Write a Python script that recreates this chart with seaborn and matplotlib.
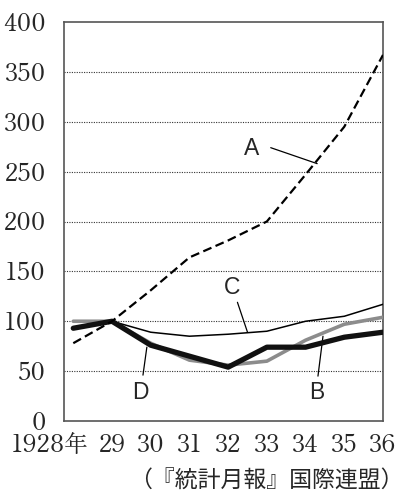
import matplotlib
matplotlib.use("Agg")
import matplotlib.pyplot as plt
from matplotlib.transforms import ScaledTranslation
import pandas as pd
import seaborn as sns

years = [1928, 1929, 1930, 1931, 1932, 1933, 1934, 1935, 1936]
year_labels = ["1928年", "29", "30", "31", "32", "33", "34", "35", "36"]

a_values = [78, 100, 131, 164, 181, 200, 247, 295, 367]
b_values = [100, 100, 78, 61, 56, 60, 81, 97, 104]
c_values = [None, 100, 89, 85, 87, 90, 100, 105, 117]
d_values = [93, 100, 76, 65, 54, 74, 74, 84, 89]

y_ticks = [0, 50, 100, 150, 200, 250, 300, 350, 400]

TICK_FONT = "Zen Old Mincho"


def main():
    sns.set_style("white")
    plt.rcParams["font.family"] = [TICK_FONT]

    df = pd.DataFrame({"year": years, "A": a_values, "B": b_values,
                       "C": c_values, "D": d_values})

    fig = plt.figure(figsize=(4.05, 5.01), dpi=100)
    ax = fig.add_axes([64 / 405, 1 - 421 / 501, (383 - 64) / 405, (421 - 22) / 501])

    for y in y_ticks[1:-1]:
        ax.axhline(y, color="#333333", lw=0.8, ls=(0, (1, 1.2)), zorder=1)

    sns.lineplot(data=df, x="year", y="B", ax=ax, color="#8c8c8c", lw=2.6, zorder=3)
    sns.lineplot(data=df, x="year", y="C", ax=ax, color="black", lw=1.1, zorder=4)
    sns.lineplot(data=df, x="year", y="D", ax=ax, color="#111111", lw=3.8, zorder=5)
    sns.lineplot(data=df, x="year", y="A", ax=ax, color="black", lw=1.6,
                 ls=(0, (4, 2)), zorder=6)

    ax.set_xlim(1927.76, 1936)
    ax.set_ylim(0, 400)
    ax.set_xticks(years)
    ax.set_xticklabels(year_labels, fontsize=17, family=TICK_FONT)
    ax.set_yticks(y_ticks)
    ax.set_yticklabels([str(v) for v in y_ticks], fontsize=17, family=TICK_FONT)
    ax.tick_params(axis="both", length=0)
    ax.tick_params(axis="y", pad=13)
    ax.tick_params(axis="x", pad=9)
    ax.set_xlabel("")
    ax.set_ylabel("")

    first = ax.get_xticklabels()[0]
    first.set_ha("right")
    first.set_transform(first.get_transform() + ScaledTranslation(15 / 100, 0, fig.dpi_scale_trans))

    for s in ax.spines.values():
        s.set_color("#555555")
        s.set_linewidth(1.2)

    # labels with leader lines (in data coords)
    lab_font = dict(fontsize=16.5, family="Liberation Sans", ha="center", va="center")
    ax.text(1932.6, 273, "A", **lab_font)
    ax.plot([1933.1, 1934.3], [274, 258], color="black", lw=0.9)
    ax.text(1932.1, 134, "C", **lab_font)
    ax.plot([1932.24, 1932.5], [119, 89], color="black", lw=0.9)
    ax.text(1929.72, 29, "D", **lab_font)
    ax.plot([1929.8, 1929.9], [46, 74], color="black", lw=0.9)
    ax.text(1934.3, 29, "B", **lab_font)
    ax.plot([1934.32, 1934.45], [45, 85], color="black", lw=0.9)

    fig.text(404 / 405, 1 - 481 / 501, "（『統計月報』国際連盟）", fontsize=16.5,
             family="Noto Sans CJK JP", ha="right", va="center")

    fig.savefig("out.png", dpi=100)


if __name__ == "__main__":
    main()
